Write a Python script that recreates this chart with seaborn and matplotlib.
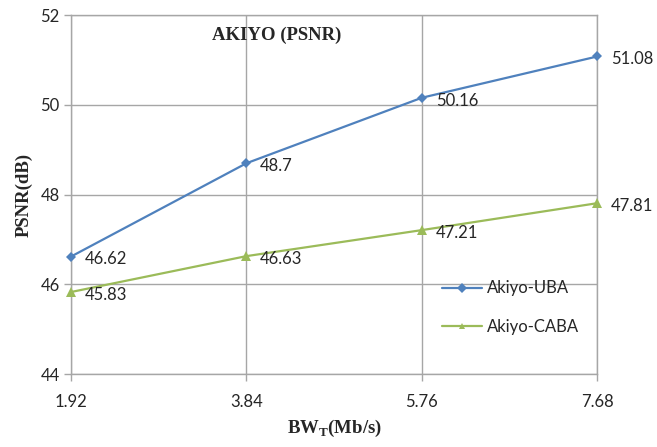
import matplotlib
matplotlib.use("Agg")
import matplotlib.pyplot as plt
import seaborn as sns
import pandas as pd

# Transmission bandwidth (Mb/s) and PSNR results for the Akiyo sequence
bandwidth = [1.92, 3.84, 5.76, 7.68]
bandwidth_labels = ["1.92", "3.84", "5.76", "7.68"]
psnr_uba = [46.62, 48.7, 50.16, 51.08]
psnr_caba = [45.83, 46.63, 47.21, 47.81]
series_names = ["Akiyo-UBA", "Akiyo-CABA"]
y_ticks = [44, 46, 48, 50, 52]

df = pd.concat([
    pd.DataFrame({"bw": bandwidth, "psnr": psnr_uba, "scheme": series_names[0]}),
    pd.DataFrame({"bw": bandwidth, "psnr": psnr_caba, "scheme": series_names[1]}),
], ignore_index=True)

sns.set_style("white")
plt.rcParams["font.family"] = ["Lato", "DejaVu Sans"]

palette = {series_names[0]: "#4F81BD", series_names[1]: "#9BBB59"}
markers = {series_names[0]: "D", series_names[1]: "^"}

fig = plt.figure(figsize=(6.57, 4.47), dpi=100)
ax = fig.add_axes([0.108, 0.163, 0.801, 0.803])

sns.lineplot(data=df, x="bw", y="psnr", hue="scheme", style="scheme",
             markers=markers, dashes=False, palette=palette, ax=ax,
             linewidth=1.6, markeredgewidth=0, legend=True)
for line in ax.lines:
    line.set_clip_on(False)
    line.set_zorder(3)
    if line.get_marker() == "D":
        line.set_markersize(5.5)
    else:
        line.set_markersize(7.5)

# value labels next to each point
for vals in (psnr_uba, psnr_caba):
    for x, v in zip(bandwidth, vals):
        ax.annotate(f"{v:g}", (x, v), xytext=(10, -2), textcoords="offset points",
                    va="center", ha="left", fontsize=12, color="#262626")

ax.set_xlim(bandwidth[0], bandwidth[-1])
ax.set_ylim(y_ticks[0], y_ticks[-1])
ax.set_xticks(bandwidth)
ax.set_xticklabels(bandwidth_labels)
ax.set_yticks(y_ticks)

grid_c = "#A6A6A6"
ax.grid(True, color=grid_c, linewidth=1.0)
ax.set_axisbelow(True)
for s in ax.spines.values():
    s.set_color(grid_c)
    s.set_linewidth(1.0)
ax.tick_params(axis="both", which="both", length=5, width=1.0, color=grid_c,
               labelsize=12, labelcolor="#262626", direction="out",
               bottom=True, left=True)
ax.tick_params(axis="x", pad=9)
ax.tick_params(axis="y", pad=3)

serif = ["Liberation Serif", "DejaVu Serif"]
ax.set_xlabel(r"BW$_\mathregular{T}$(Mb/s)", fontsize=13.5, fontweight="bold",
              family=serif, labelpad=6)
ax.set_ylabel("PSNR(dB)", fontsize=13.5, fontweight="bold", family=serif, labelpad=6)
ax.text(0.39, 0.945, "AKIYO (PSNR)", transform=ax.transAxes, fontsize=13.5,
        fontweight="bold", family=serif, ha="center", va="center")

leg = ax.legend(loc="center left", bbox_to_anchor=(0.705, 0.185), frameon=False,
                fontsize=12, handlelength=2.4, labelspacing=1.35,
                borderaxespad=0, borderpad=0, handletextpad=0.3)
for h in leg.legend_handles:
    h.set_markersize(5)
for t in leg.get_texts():
    t.set_color("#262626")

fig.savefig("out.png", dpi=100)
